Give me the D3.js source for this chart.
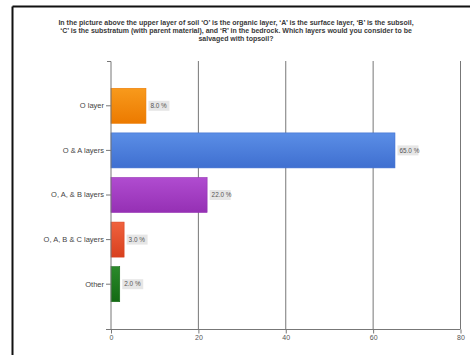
<!DOCTYPE html>
<html>
<head>
<meta charset="utf-8">
<script src="https://cdn.jsdelivr.net/npm/d3@7"></script>
<style>
  html, body { margin: 0; padding: 0; background: #fff; }
  svg { display: block; }
</style>
</head>
<body>
<svg id="chart" width="470" height="355"></svg>
<script>
// Survey responses: which soil layers should be salvaged with topsoil
const categories = ["O layer", "O & A layers", "O, A, & B layers", "O, A, B & C layers", "Other"];
const percents = [8.0, 65.0, 22.0, 3.0, 2.0];
const barColors = [
  ["#f89a1c", "#ec7a00"],
  ["#5b8ee6", "#3f6fd0"],
  ["#b04cd0", "#9530b4"],
  ["#f0623e", "#d8401e"],
  ["#2a8a2a", "#136a13"]
];
const xTicks = [0, 20, 40, 60, 80];
const titleLines = [
  "In the picture above the upper layer of soil \u2018O\u2019 is the organic layer, \u2018A\u2019 is the surface layer, \u2018B\u2019 is the subsoil,",
  "\u2018C\u2019 is the substratum (with parent material), and \u2018R\u2019 in the bedrock. Which layers would you consider to be",
  "salvaged with topsoil?"
];

const svg = d3.select("#chart");
const font = "Liberation Sans, Arial, sans-serif";

// Frame edges (top and left)
svg.append("line").attr("x1", 12.5).attr("x2", 470).attr("y1", 6.5).attr("y2", 6.5)
  .attr("stroke", "#111").attr("stroke-width", 2);
svg.append("line").attr("x1", 12.5).attr("x2", 12.5).attr("y1", 6.5).attr("y2", 355)
  .attr("stroke", "#111").attr("stroke-width", 2);

// Title
svg.append("g").selectAll("text").data(titleLines).join("text")
  .attr("x", 236).attr("y", (d, i) => 24.5 + i * 8)
  .attr("text-anchor", "middle")
  .attr("font-family", font).attr("font-size", 7).attr("font-weight", "bold")
  .attr("fill", "#3a3a3a")
  .text(d => d);

const plotTop = 61, plotBottom = 329;
const x = d3.scaleLinear().domain([0, 80]).range([110.5, 460]);
const y = d3.scaleBand().domain(categories).range([83.5, 306.5]).paddingInner(0.215).paddingOuter(0.1075);

// Gradients
const defs = svg.append("defs");
barColors.forEach((c, i) => {
  const g = defs.append("linearGradient").attr("id", "g" + i)
    .attr("x1", 0).attr("y1", 0).attr("x2", 0).attr("y2", 1);
  g.append("stop").attr("offset", "0%").attr("stop-color", c[0]);
  g.append("stop").attr("offset", "100%").attr("stop-color", c[1]);
});

// Vertical gridlines
svg.append("g").selectAll("line").data(xTicks.slice(1)).join("line")
  .attr("x1", d => x(d) + 0.5).attr("x2", d => x(d) + 0.5)
  .attr("y1", plotTop).attr("y2", plotBottom)
  .attr("stroke", "#777").attr("stroke-width", 1);

// X axis
const xAxis = svg.append("g").attr("transform", `translate(0.5,${plotBottom + 0.5})`)
  .call(d3.axisBottom(x).tickValues(xTicks).tickSize(4).tickPadding(2).tickSizeOuter(0));
xAxis.select(".domain").attr("d", `M${x(0) - 5},0H${x(80)}`).attr("stroke", "#777");
xAxis.selectAll(".tick line").attr("stroke", "#777");
xAxis.selectAll("text").attr("font-family", font).attr("font-size", 7).attr("fill", "#555");

// Bars
svg.append("g").selectAll("rect").data(percents).join("rect")
  .attr("x", x(0) + 0.5)
  .attr("y", (d, i) => y(categories[i]))
  .attr("width", d => x(d) - x(0))
  .attr("height", y.bandwidth())
  .attr("fill", (d, i) => `url(#g${i})`)
  .attr("stroke", (d, i) => barColors[i][1]).attr("stroke-width", 0.6);

// Y axis
const yAxis = svg.append("g").attr("transform", `translate(${x(0) + 0.5},0)`)
  .call(d3.axisLeft(y).tickSize(5).tickPadding(2).tickSizeOuter(0));
yAxis.select(".domain").attr("d", `M-4,${plotTop + 0.5}H0V${plotBottom}`).attr("stroke", "#777");
yAxis.selectAll(".tick line").attr("stroke", "#777");
yAxis.selectAll("text").attr("font-family", font).attr("font-size", 7.5).attr("fill", "#444");

// Value labels
const lab = svg.append("g").selectAll("g").data(percents).join("g")
  .attr("transform", (d, i) => `translate(${x(d) + 3},${y(categories[i]) + y.bandwidth() / 2})`);
lab.append("rect").attr("x", 0).attr("y", -5).attr("width", 21).attr("height", 10)
  .attr("fill", "#e6e6e6");
lab.append("text").attr("x", 2).attr("y", 0).attr("dy", "0.35em")
  .attr("font-family", font).attr("font-size", 6.4).attr("fill", "#555")
  .text(d => d.toFixed(1) + " %");
</script>
</body>
</html>
